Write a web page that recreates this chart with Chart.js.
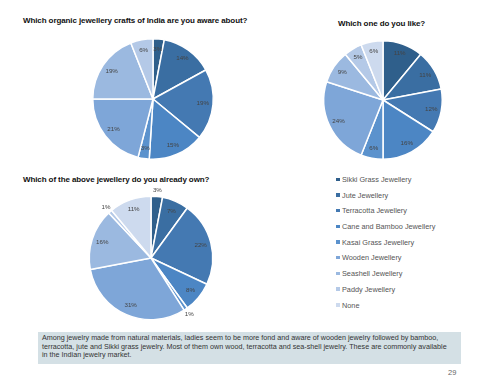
<!DOCTYPE html>
<html>
<head>
<meta charset="utf-8">
<script src="https://cdn.jsdelivr.net/npm/chart.js@4.4.1/dist/chart.umd.min.js"></script>
<style>
  body { margin: 0; width: 480px; height: 384px; background: #fff; position: relative; overflow: hidden;
         font-family: "Liberation Sans", Arial, sans-serif; }
  .title { position: absolute; font-weight: bold; font-size: 8px; color: #111; white-space: nowrap; letter-spacing: -0.1px; }
  .box { position: absolute; }
  #legend { position: absolute; left: 336px; top: 175px; font-size: 7.3px; color: #555; }
  #legend div { height: 15.7px; line-height: 10px; white-space: nowrap; }
  #legend span { display: inline-block; width: 3.5px; height: 3.5px; margin-right: 2.5px; vertical-align: 1px; }
  #note { position: absolute; left: 38px; top: 332px; width: 419px; height: 30px; padding: 2px 0 0 4px;
          background: #d4e0e5; font-size: 7.2px; line-height: 8.6px; color: #333; white-space: nowrap; overflow: hidden; }
  #page { position: absolute; left: 448px; top: 368px; font-size: 7.5px; color: #666; }
</style>
</head>
<body>
<div class="title" style="left:23px; top:16px;">Which organic jewellery crafts of India are you aware about?</div>
<div class="title" style="left:338px; top:19px;">Which one do you like?</div>
<div class="title" style="left:23px; top:175px;">Which of the above jewellery do you already own?</div>

<div class="box" style="left:78px; top:24px; width:150px; height:150px;"><canvas id="c1"></canvas></div>
<div class="box" style="left:308px; top:25px; width:150px; height:150px;"><canvas id="c2"></canvas></div>
<div class="box" style="left:76px; top:183px; width:150px; height:150px;"><canvas id="c3"></canvas></div>

<div id="legend"></div>
<div id="note">Among jewelry made from natural materials, ladies seem to be more fond and aware of wooden jewelry followed by bamboo,<br>terracotta, jute and Sikki grass jewelry. Most of them own wood, terracotta and sea-shell jewelry. These are commonly available<br>in the Indian jewelry market.</div>
<div id="page">29</div>

<script>
// 類別
const categories = ['Sikki Grass Jewellery', 'Jute Jewellery', 'Terracotta Jewellery', 'Cane and Bamboo Jewellery',
  'Kasai Grass Jewellery', 'Wooden Jewellery', 'Seashell Jewellery', 'Paddy Jewellery', 'None'];

// 百分比數據
const awareValues = [3, 14, 19, 15, 3, 21, 19, 6, 0];
const likeValues = [11, 11, 12, 16, 6, 24, 9, 5, 6];
const ownValues = [3, 7, 22, 8, 1, 31, 16, 1, 11];

const colors = ['#2f5f8b', '#3a6ea2', '#4479b2', '#4c86c4', '#5b92cd', '#7ea6d8', '#9bb9e0', '#b4c9e7', '#cddaee'];

// 圖例
const legend = document.getElementById('legend');
categories.forEach((c, i) => {
    const row = document.createElement('div');
    row.innerHTML = `<span style="background:${colors[i]}"></span>${c}`;
    legend.appendChild(row);
});

// 百分比標籤
const pieLabels = {
    id: 'pieLabels',
    afterDatasetsDraw(chart, args, opts) {
        const ctx = chart.ctx;
        const meta = chart.getDatasetMeta(0);
        const data = chart.data.datasets[0].data;
        ctx.save();
        ctx.font = '6.2px "Liberation Sans", Arial, sans-serif';
        ctx.fillStyle = '#444';
        ctx.textAlign = 'center';
        ctx.textBaseline = 'middle';
        meta.data.forEach((arc, i) => {
            if (!data[i]) return;
            const p = arc.getProps(['x', 'y', 'startAngle', 'endAngle', 'outerRadius'], true);
            const mid = (p.startAngle + p.endAngle) / 2;
            const f = data[i] <= opts.outsideMax ? 1.1 : 0.83;
            ctx.fillText(data[i] + '%', p.x + Math.cos(mid) * p.outerRadius * f, p.y + Math.sin(mid) * p.outerRadius * f);
        });
        ctx.restore();
    }
};

function makePie(id, values, pad, outsideMax) {
    new Chart(document.getElementById(id), {
        type: 'pie',
        data: {
            labels: categories,
            datasets: [{
                data: values,
                backgroundColor: colors,
                borderColor: '#fff',
                borderWidth: 1.5
            }]
        },
        options: {
            responsive: true,
            maintainAspectRatio: false,
            animation: false,
            layout: { padding: pad },
            plugins: {
                legend: { display: false },
                tooltip: { enabled: false },
                pieLabels: { outsideMax: outsideMax }
            }
        },
        plugins: [pieLabels]
    });
}

makePie('c1', awareValues, 14, 1);
makePie('c2', likeValues, 15, 1);
makePie('c3', ownValues, 12.5, 3);
</script>
</body>
</html>
